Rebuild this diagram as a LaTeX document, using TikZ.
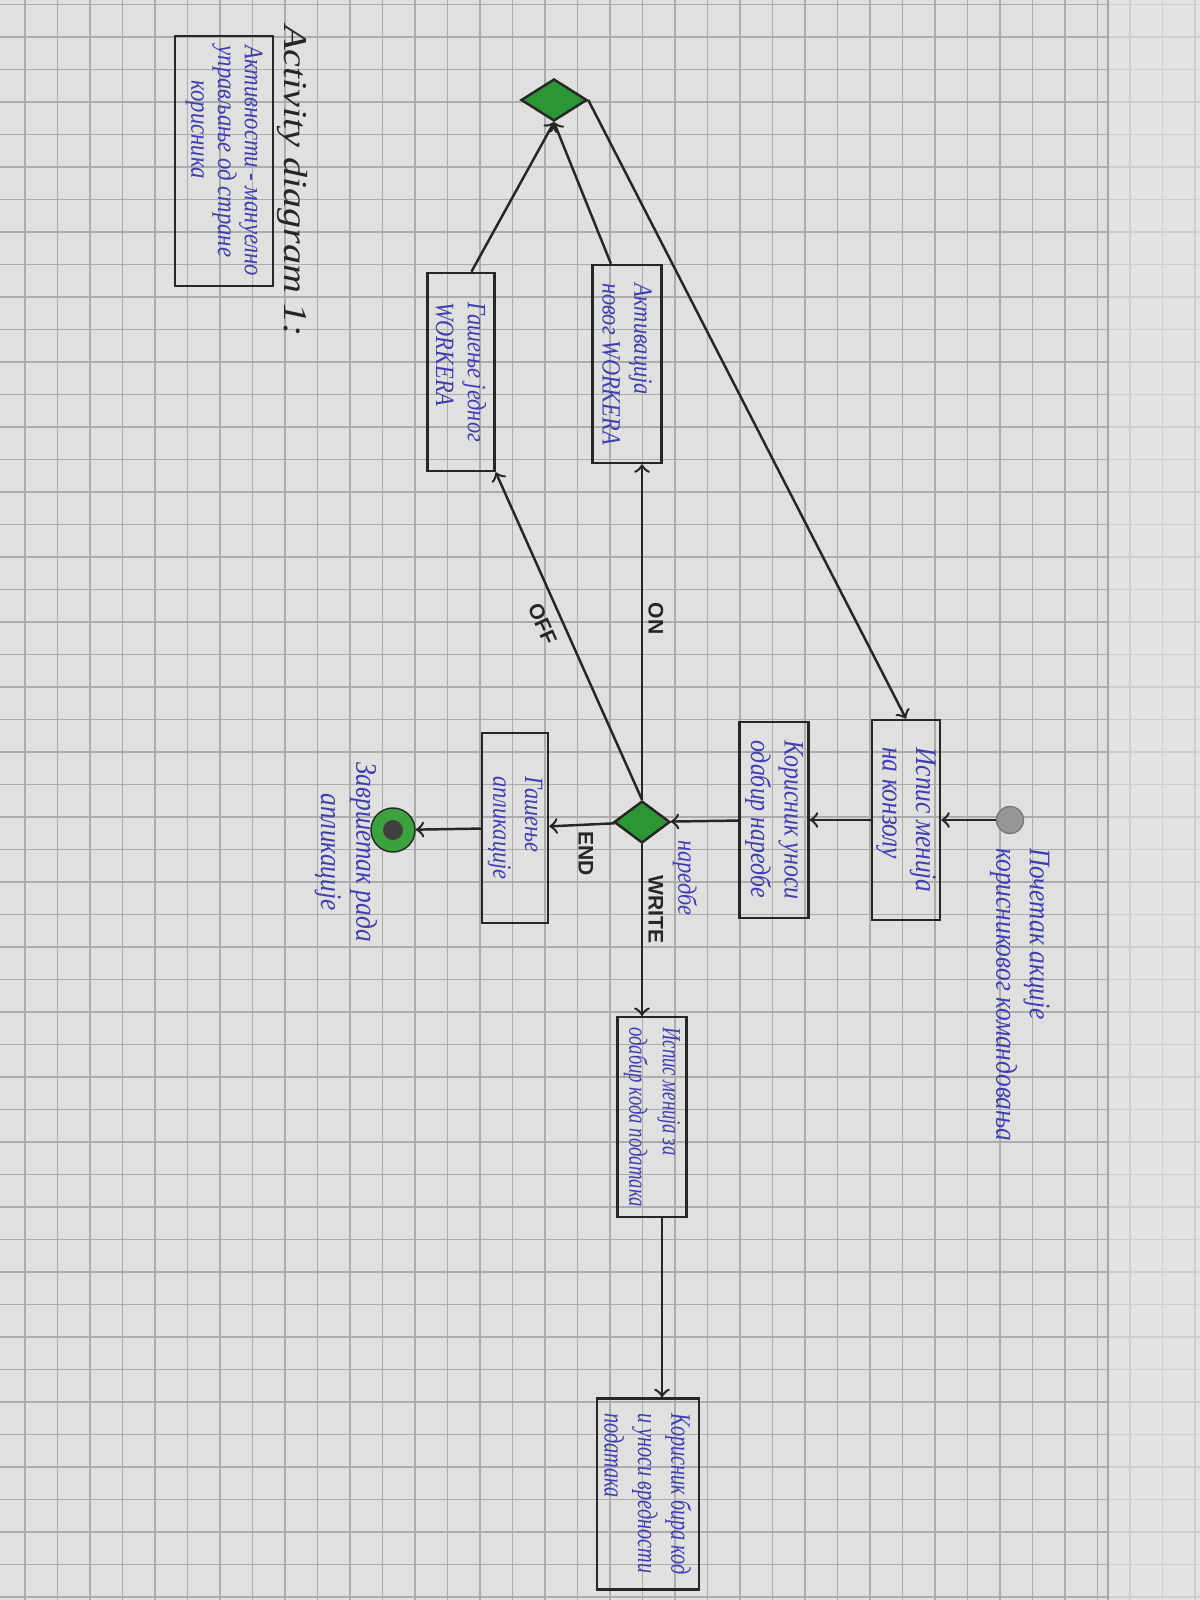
\documentclass[tikz,border=0pt]{standalone}
\usepackage{fontspec}
\setmainfont{Liberation Serif}
\newfontfamily\labfont{Liberation Sans}
\newfontfamily\handfont[FakeStretch=0.85]{Liberation Serif}
\newfontfamily\narrowhand[FakeStretch=0.72]{Liberation Serif}
\newfontfamily\titlefont[FakeStretch=1.2]{Liberation Serif}
\usetikzlibrary{arrows,shapes.geometric,calc}
\definecolor{paper}{RGB}{224,224,222}
\definecolor{gridgray}{RGB}{172,172,172}
\definecolor{inkblue}{RGB}{62,62,178}
\definecolor{dgreen}{RGB}{44,150,52}
\definecolor{egreen}{RGB}{60,162,62}
\definecolor{dotgray}{RGB}{150,150,150}
\newcommand{\handtext}{\handfont\itshape\fontsize{7.5}{9}\selectfont}

\begin{document}
\begin{tikzpicture}[x=0.01cm,y=-0.01cm,>=to,
  actbox/.style={draw=black!85,line width=0.7pt,rotate=-90,align=left,inner xsep=1mm,inner ysep=0.3mm,text=inkblue,font=\handtext},
  dec/.style={diamond,draw=black!85,line width=0.7pt,fill=dgreen,minimum width=5.6mm,minimum height=4.2mm,inner sep=0pt},
  startdot/.style={circle,fill=dotgray,draw=dotgray!80!black,minimum size=2.7mm,inner sep=0pt},
  enddot/.style={circle,draw=black!85,fill=egreen,minimum size=4.4mm,inner sep=0pt,
    path picture={\fill[black!75] (path picture bounding box.center) circle (1mm);}},
  flow/.style={->,draw=black!85,line width=0.7pt},
  lab/.style={font=\labfont\bfseries\fontsize{6}{7}\selectfont,text=black!85,inner sep=1.5pt},
  note/.style={rotate=-90,text=inkblue,font=\handtext}]

% paper
\fill[paper] (0,0) rectangle (1200,1600);
\useasboundingbox (0,0) rectangle (1200,1600);
\foreach \gx in {0,...,36}
  \draw[gridgray,line width=0.5pt] (25+32.5*\gx,0) -- (25+32.5*\gx,1600);
\foreach \gy in {0,...,49}
  \draw[gridgray,line width=0.5pt] (0,4.5+32.5*\gy) -- (1200,4.5+32.5*\gy);
\fill[black!10,opacity=0.6] (1108,0) rectangle (1200,1600);
\draw[black!35] (1108,0) -- (1108,1600);

% title
\node[rotate=-90,font=\titlefont\itshape\fontsize{9.5}{11}\selectfont,text=black!85,inner sep=0pt] (t) at (292,181) {Activity diagram 1:};
\node[actbox,minimum width=24mm,minimum height=9.8mm,font=\handfont\itshape\fontsize{7.6}{7.6}\selectfont] (l) at (224,161)
  {Активности - мануелно\\управљање од стране\\\hspace*{3.5mm}корисника};

% main line
\node[startdot] (s) at (1010,820) {};
\node[note,anchor=north west,align=left,font=\handfont\itshape\fontsize{8.5}{9.5}\selectfont] (st) at (1062,836)
  {Почетак акције\\корисниковог командовања};
\node[actbox,minimum width=20mm,minimum height=6.8mm,font=\handfont\itshape\fontsize{8.5}{9.5}\selectfont] (a) at (906,820)
  {Испис менија\\на конзолу};
\node[actbox,minimum width=19.6mm,minimum height=6.9mm,font=\handfont\itshape\fontsize{8}{9.5}\selectfont] (b) at (774,820)
  {Корисник уноси\\одабир наредбе};
\node[dec] (d2) at (642,822) {};
\node[note] (nr) at (685,878) {наредбе};
\node[actbox,minimum width=19.2mm,minimum height=6.9mm,font=\narrowhand\itshape\fontsize{7.4}{9.5}\selectfont] (c) at (652,1117)
  {Испис менија за\\одабир кода података};
\node[actbox,minimum width=19.1mm,minimum height=10.2mm,font=\narrowhand\itshape\fontsize{8}{9.5}\selectfont] (d) at (648,1494)
  {Корисник бира код\\и уноси вредности\\података};
\node[actbox,minimum width=19mm,minimum height=6.6mm] (e) at (515,828) {Гашење\\апликације};
\node[enddot] (z) at (393,830) {};
\node[note,align=center,font=\handfont\itshape\fontsize{8.5}{10}\selectfont] (zt) at (346,852) {Завршетак рада\\апликације};

% workers
\node[actbox,minimum width=19.8mm,minimum height=6.9mm] (f) at (627,364) {Активација\\новог WORKERA};
\node[actbox,minimum width=19.8mm,minimum height=6.7mm] (g) at (461,372) {Гашење једног\\WORKERA};
\node[dec,minimum width=6.6mm] (d1) at (554,100) {};

\draw[flow] (s) -- (a);
\draw[flow] (a) -- (b);
\draw[flow] (b) -- (d2);
\draw[flow] (d2) -- (d2 |- c.west) node[lab,rotate=-90,pos=0.38,anchor=south] {WRITE};
\coordinate (cd) at ([xshift=1mm]c.east);
\draw[flow] (cd) -- (cd |- d.west);
\draw[flow] (d2) -- (e) node[lab,rotate=-90,pos=0.44,anchor=west] {END};
\draw[flow] (e) -- (z);
\draw[flow] (d2.north) -- (d2.north |- f.east) node[lab,rotate=-90,pos=0.54,anchor=south] {ON};
\draw[flow] (d2.north) -- (g.north east) node[lab,rotate=-66,pos=0.56,anchor=north,inner sep=3pt] {OFF};
\draw[flow] ($(f.west)!0.45!(f.south west)$) -- (d1.south);
\draw[flow] ($(g.west)!0.3!(g.north west)$) -- (d1.south);
\draw[flow] (d1.east) -- (a.west);
\end{tikzpicture}
\end{document}
